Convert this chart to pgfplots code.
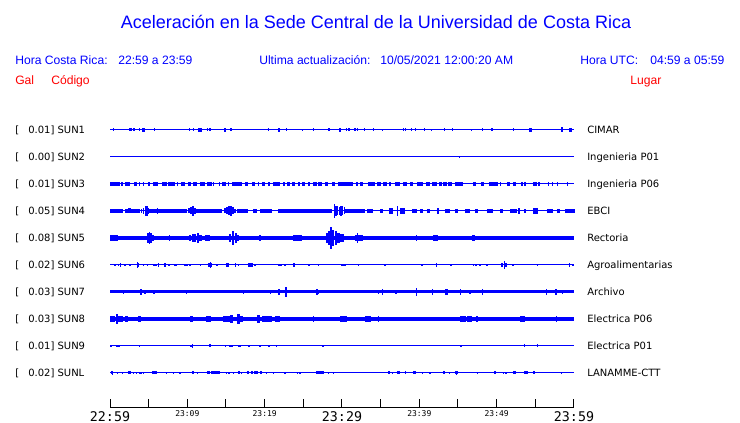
\documentclass[border=0pt]{standalone}
\usepackage{fontspec}
\setmainfont{Liberation Sans}
\newfontfamily\dejavu{DejaVu Sans}
\newfontfamily\dejamono{DejaVu Sans Mono}
\usepackage{pgfplots}
\pgfplotsset{compat=1.18}
\usepackage{pgfplotstable}
\definecolor{sblue}{RGB}{0,0,255}
\definecolor{sred}{RGB}{255,0,0}
\newlength\px
\setlength\px{0.75pt}

% each trace: t = minutes after 22:59, a = half height of a burst (px), w = burst width (px)
\pgfplotstableread{
t a w
0.43 1.5 1
2.65 1.5 2.3
3.10 1.5 1
3.79 1.5 1.3
4.35 1.6 3
5.73 1.5 1
10.26 1.5 1
10.78 1.5 1
11.64 1.6 3.3
12.59 1.5 1
12.93 1.5 1
14.87 1.6 2
15.65 1.5 1
20.47 1.5 1
21.83 1.6 2
22.84 1.5 1
24.91 1.1 1
26.29 1.5 1
28.32 1.5 1
29.74 1.6 2
30.60 1.5 1
30.91 1.5 1
31.68 1.5 1
31.98 1.5 1
32.89 1.5 1
34.05 1.5 1
35.22 1.2 1
37.93 1.5 1
38.23 1.5 1
38.97 1.5 1
39.53 1.5 1
40.65 1.5 1
41.59 1.2 1
43.23 1.5 1
44.27 1.5 1
46.77 1.1 1
48.15 1.5 1
49.40 1.5 1
52.16 1.5 1
54.35 1.6 3
58.45 2.5 1
59.57 1.9 3
}\sunone

\pgfplotstableread{
t a w
45.17 1 1
}\suntwo

\pgfplotstableread{
t a w
0.65 1.65 10
1.57 1.65 2.3
2.26 1.65 5
3.32 1.65 3.3
3.79 1.65 1
4.31 1.65 1
5.02 1.65 2.3
5.93 1.65 5
7.05 1.65 4.3
7.97 1.65 6.7
8.73 1.65 1.7
9.44 1.65 4
10.26 1.65 3.3
10.99 1.65 3.3
11.96 1.65 5
12.82 1.65 5
13.36 1.65 1
14.14 1.65 1
14.74 1.65 3.3
15.30 1.65 1
16.38 1.65 10
17.67 1.65 3.3
18.53 1.65 3.3
19.18 1.65 1.3
19.87 1.65 2.7
20.58 1.65 1.7
21.51 1.65 7.3
22.48 1.65 2.3
23.06 1.65 3.3
23.71 1.65 3.3
24.42 1.65 2.3
25.00 1.65 3.3
25.71 1.65 2.3
26.51 1.65 3.3
27.16 1.65 3.3
27.97 1.65 2.7
28.88 1.65 3.3
30.50 1.65 15
31.96 1.65 2.3
32.50 1.65 2.7
33.84 1.65 6.7
34.78 1.65 3.3
35.52 1.65 4
36.21 1.65 1
37.18 1.65 5
38.15 1.65 3.3
38.97 1.65 2.7
40.09 1.65 6.7
41.12 1.65 4
41.92 1.65 5
42.72 1.65 2.3
43.32 1.65 3.3
43.97 1.65 3.3
45.09 1.65 7.7
47.00 1.65 1
47.20 1.65 1
48.17 1.65 3
49.63 1.65 9
50.52 1.65 1
51.51 1.65 3.3
52.33 1.65 2.7
53.30 1.65 2.3
53.66 1.65 1
55.00 1.65 4
55.47 1.65 1
56.68 1.65 1
57.22 1.65 1.7
57.86 1.65 1.7
59.14 1.65 1
}\sunthree

\pgfplotstableread{
t a w
0.86 1.7 13.3
2.91 1.7 15
2.54 2.5 2.7
4.09 2.3 1.5
4.35 3.3 1.5
4.57 4.7 1.5
4.78 5.3 1.5
4.96 3 1.5
5.13 2 1.5
6.12 3.3 1
7.54 1.7 36.7
8.06 2 1
10.22 2.5 1.5
10.47 3.5 1.5
10.73 4.7 1.5
10.99 3.3 1.5
11.25 2.3 1.5
12.28 2 1
12.93 1.7 23.3
14.87 2.5 1.5
15.13 3.5 1.5
15.39 4.5 1.5
15.65 5.3 1.5
15.91 3.5 1.5
16.16 2.3 1.5
16.60 2 1
17.13 1.7 11.7
18.75 1.7 3.3
20.15 1.7 11.7
19.78 2.3 2.7
22.84 2 1
25.22 1.7 53.3
29.01 7 1.5
29.22 5 1.5
29.44 4.5 1.5
29.66 4.3 1.5
29.87 5 1.5
30.09 4.5 1.5
30.30 3.5 1.5
30.93 2 8.3
32.22 1.7 11.7
33.62 1.7 6.7
35.13 1.7 3.3
36.38 2.7 4
37.16 4.7 1.3
37.82 2.7 5
39.33 1.7 5
40.30 1.7 3.3
41.21 1.7 2.7
42.41 3.3 2.7
43.64 1.7 5
44.83 2 3.3
46.23 1.7 5
47.41 1.7 3.3
49.14 1.7 6.7
50.65 1.7 3.3
52.16 1.7 6.7
52.89 3.3 1.3
53.66 1.7 1.3
55.06 2.7 5
56.90 1.7 6.7
58.02 1.7 2.7
59.48 1.7 10
}\sunfour

\pgfplotstableread{
t a w
0.54 3 8.3
1.72 2.2 10
4.87 5.3 1.7
5.09 6 1.7
5.30 4.7 1.7
5.60 3.3 2.3
5.91 2.2 2.3
7.54 2.4 10
7.67 3.3 1.3
9.27 2 10
10.34 3 2.3
10.69 3.7 2.3
10.99 4 2.3
11.42 4.7 2.3
11.72 3 2.3
12.61 3 5
14.87 2 3.3
15.52 4.3 2
15.95 6.7 2
16.25 5.3 2
16.59 3.3 2.3
16.94 2 2.3
17.78 1.8 8.3
19.40 3.3 1.3
21.98 1.5 3.3
23.17 2.3 5
24.25 3.3 8.3
25.75 1.7 5
26.72 1.5 1.3
28.02 5 2
28.32 6.7 2
28.58 11 2
28.88 8.3 2
29.18 6.7 2
29.53 5.3 2.3
29.87 4 2.3
30.17 4 2.3
31.03 2 6.7
32.00 3.3 5
32.03 4.7 1.3
32.54 2.7 3.3
33.94 2 8.3
35.56 1.7 3.3
36.85 1.7 3.3
39.66 3.3 1.5
42.13 3.3 5
42.89 2 3.3
43.97 1.7 3.3
45.69 1.7 1.3
47.00 2.7 3.3
49.57 2 1.3
52.16 2 1.3
53.02 1.7 1.3
54.74 1.7 3.3
56.68 1.5 1
59.40 2 1
}\sunfive

\pgfplotstableread{
t a w
0.65 1.4 2
1.08 1.4 1
1.38 1.7 1.3
1.94 1.4 1.7
2.59 1.4 1.7
3.62 1.7 2.7
3.58 2.7 1
4.31 1.4 1
4.87 1.4 1
5.82 1.4 3.3
6.25 2 1
7.11 2 1.3
7.59 1.4 2.3
8.45 1.4 2.7
9.83 1.4 4.3
10.34 1.4 1
11.72 1.4 1.7
12.97 1.7 4
13.02 2.7 1
13.84 1.4 2.3
15.17 1.7 3
16.25 2.3 1.3
16.59 1.4 1
18.15 1.7 5.7
18.75 1.4 1
21.85 1.4 1
22.11 1.4 1
22.63 1.4 1
23.79 1.7 2
25.73 1.1 1
26.94 1.1 1
30.13 1.4 5
32.11 1.1 1
35.56 1 1
40.39 1.4 2
42.24 2 1.3
44.05 1.4 2
46.98 1.4 1
47.33 1.4 2
47.84 1.1 1
48.79 1.4 2
50.73 2 2
50.99 4 1.5
51.21 2 2
52.16 1.4 2
55.30 1 1
59.40 2 1.3
59.90 1.4 1.5
}\sunsix

\pgfplotstableread{
t a w
1.72 2.3 1
4.01 3.3 1
4.53 2.3 1.3
5.69 2 1
9.91 1.7 1
17.24 1.8 1
20.78 2 1
21.85 3 1
22.76 4.7 1.3
26.77 3 1.3
26.94 2 1.3
34.70 1.7 1
35.26 3 1.3
36.98 1.7 1
39.66 4 1.5
41.72 3 1.3
43.53 2.7 3
45.34 2.7 1.3
46.55 2 1.3
48.15 3 1.3
56.47 3 1.3
57.67 2.7 1.3
58.53 2.3 1.3
}\sunseven

\pgfplotstableread{
t a w
0.30 2.7 5
0.95 4.7 2.3
1.38 3 5
2.16 2.7 3.3
3.02 2 6.7
3.84 3 2.7
4.53 1.7 1
5.26 2.3 2
5.99 2 2.7
7.24 1.7 1.7
7.76 1.7 1
8.10 1.7 1
8.41 1.7 1
9.48 1.7 1
10.56 2.7 3.3
11.29 2.3 8.3
12.07 1.7 1
12.80 3 5
13.88 2 8.3
15.09 2.7 6.7
15.73 4 3.3
16.59 4.7 3.3
17.03 3.3 3.3
18.10 1.9 10
19.18 4 3.3
20.26 2.7 10
21.64 3 5
22.63 1.9 6.7
23.92 1.9 1.3
25.30 1.7 1.7
26.29 3.3 1.3
27.59 2.3 6.7
29.09 1.7 1
30.17 2.7 6.7
33.32 2.7 5.7
34.70 3 1.3
35.99 2.3 6.7
43.23 2 5.7
44.74 2 2.3
45.65 3 6
46.47 2.7 4.3
47.50 3 2
48.88 2 9.3
50.00 2 3.3
50.78 1.9 2.3
51.94 2.3 6.7
53.32 3.3 5
55.60 2 6.7
56.68 1.7 3.3
57.76 3.3 1.3
}\suneight

\pgfplotstableread{
t a w
0.13 1.1 1
0.99 1.3 4.3
3.79 1.1 1
10.56 1.3 3.3
10.65 1.8 1
12.93 1.5 1
14.96 1.3 1.5
15.65 1.4 3.3
16.72 1.4 3
17.97 1.1 1
19.40 1.1 1
20.56 1.1 1
21.55 1.2 1.3
27.54 1.4 1
45.39 1.1 1
53.58 1.5 1
55.30 1.5 1
}\sunnine

\pgfplotstableread{
t a w
0.26 1.5 2.3
0.30 2 1
0.95 1.3 1
1.59 1.3 1
2.54 1.5 2.7
3.02 1.3 1
3.45 1.3 1
3.79 1.3 1
4.01 1.3 1
4.31 1.3 1
5.69 1.5 5
7.33 1.3 1
8.19 1.3 1
9.05 1.3 1
10.78 1.5 2
11.34 1.3 1
12.72 1.5 3.3
13.66 1.5 8.3
15.09 1.3 1
15.39 1.3 1
15.95 1.3 1
16.64 1.5 2.3
17.03 1.3 1
17.80 1.5 1.7
18.32 1.5 1.7
18.92 1.5 4
19.53 1.5 2.3
20.26 1.3 1
21.12 1.3 1
22.63 1.3 1
24.27 1.3 1
24.57 1.3 1
27.16 1.5 8.7
28.23 1.3 1
28.88 1.3 1
36.08 1.5 2
36.55 1.3 1
37.28 1.5 3.3
38.23 1.5 1.7
39.40 1.5 2.7
40.43 1.3 1
41.38 1.3 1
43.19 1.5 1.7
43.88 1.3 1
44.83 1.5 3.3
44.83 2.3 1
47.50 1.3 1
49.78 1.5 1.7
50.86 1.3 1
51.21 1.3 1
52.29 1.5 2.3
53.84 1.5 4
54.83 1.5 1.7
58.41 1.3 1
}\sunL

% a burst: filled box w px wide and 2a px high, sizes taken per point
\pgfdeclareplotmark{burst}{%
  \pgfmathsetmacro\bw{max(\wid,1.3)}%
  \pgfpathrectangle{\pgfpoint{-0.375pt*\bw}{-0.75pt*\amp}}{\pgfpoint{0.75pt*\bw}{1.5pt*\amp}}%
  \pgfusepathqfill}

\pgfplotsset{
  seis/.style={scatter, only marks, mark=burst, point meta=\thisrow{a},
    scatter/use mapped color={draw=none, fill=sblue},
    visualization depends on={\thisrow{a}\as\amp},
    visualization depends on={\thisrow{w}\as\wid}},
  tracebase/.style={sblue, line width=#1, no marks},
}
\newcommand\bigt{\dejamono\fontsize{10}{11}\selectfont}
\newcommand\smallt[1]{\raisebox{3.75pt}{\dejamono\fontsize{6}{7}\selectfont #1}}
\newcommand\lbl{\dejavu\fontsize{7.5}{9}\selectfont}

\begin{document}
\begin{tikzpicture}
\useasboundingbox (0,0) rectangle (555pt,-317.25pt);

\node[anchor=base, inner sep=0pt, text=sblue, font=\fontsize{13.5}{16}\selectfont] at (376\px,-28.5\px) {Aceleración en la Sede Central de la Universidad de Costa Rica};
\begin{scope}[every node/.style={anchor=base west, inner sep=0pt, text=sblue, font=\fontsize{9.1}{11}\selectfont}]
\node at (15\px,-64.4\px) {Hora Costa Rica:};
\node at (118\px,-64.4\px) {22:59 a 23:59};
\node at (259\px,-64.4\px) {Ultima actualización:};
\node at (380\px,-64.4\px) {10/05/2021 12:00:20 AM};
\node at (580\px,-64.4\px) {Hora UTC:};
\node at (650\px,-64.4\px) {04:59 a 05:59};
\node[text=sred] at (15\px,-84.4\px) {Gal};
\node[text=sred] at (51\px,-84.4\px) {Código};
\node[text=sred] at (630\px,-84.4\px) {Lugar};
\end{scope}

\begin{axis}[
  at={(82.5pt,-306pt)}, anchor=south west,
  scale only axis, width=348pt, height=228.8pt,
  xmin=0, xmax=60, ymin=-11.3, ymax=0,
  axis x line=bottom, axis y line=none,
  axis line style={-}, x axis line style={-, black, line width=0.75pt},
  xtick={0,5,...,60},
  xticklabels={{\bigt 22:59},{},{\smallt{23:09}},{},{\smallt{23:19}},{},{\bigt 23:29},{},{\smallt{23:39}},{},{\smallt{23:49}},{},{\bigt 23:59}},
  xticklabel style={anchor=base, yshift=-9.9pt, inner sep=0pt},
  tick align=inside, major tick length=6.75pt,
  xtick style={black, line width=0.75pt},
  point meta min=0, point meta max=12,
  clip=false,
]
\addplot[tracebase=0.75pt] coordinates {(0,-1) (60,-1)};
\addplot[tracebase=0.75pt] coordinates {(0,-2) (60,-2)};
\addplot[tracebase=0.75pt] coordinates {(0,-3) (60,-3)};
\addplot[tracebase=0.75pt] coordinates {(0,-4) (60,-4)};
\addplot[tracebase=2.8pt] coordinates {(0,-5) (60,-5)};
\addplot[tracebase=0.75pt] coordinates {(0,-6) (60,-6)};
\addplot[tracebase=2.25pt] coordinates {(0,-7) (60,-7)};
\addplot[tracebase=2.8pt] coordinates {(0,-8) (60,-8)};
\addplot[tracebase=0.75pt] coordinates {(0,-9) (60,-9)};
\addplot[tracebase=0.75pt] coordinates {(0,-10) (60,-10)};

\addplot[seis] table[x=t, y expr=-1] {\sunone};
\addplot[seis] table[x=t, y expr=-2] {\suntwo};
\addplot[seis] table[x=t, y expr=-3] {\sunthree};
\addplot[seis] table[x=t, y expr=-4] {\sunfour};
\addplot[seis] table[x=t, y expr=-5] {\sunfive};
\addplot[seis] table[x=t, y expr=-6] {\sunsix};
\addplot[seis] table[x=t, y expr=-7] {\sunseven};
\addplot[seis] table[x=t, y expr=-8] {\suneight};
\addplot[seis] table[x=t, y expr=-9] {\sunnine};
\addplot[seis] table[x=t, y expr=-10] {\sunL};
\end{axis}

\begin{scope}[every node/.style={anchor=base west, inner sep=0pt, font=\lbl}]
\node at (15\px,-133.6\px) {\makebox[9.75pt][l]{[}0.01] SUN1};
\node at (15\px,-160.6\px) {\makebox[9.75pt][l]{[}0.00] SUN2};
\node at (15\px,-187.6\px) {\makebox[9.75pt][l]{[}0.01] SUN3};
\node at (15\px,-214.6\px) {\makebox[9.75pt][l]{[}0.05] SUN4};
\node at (15\px,-241.6\px) {\makebox[9.75pt][l]{[}0.08] SUN5};
\node at (15\px,-268.6\px) {\makebox[9.75pt][l]{[}0.02] SUN6};
\node at (15\px,-295.6\px) {\makebox[9.75pt][l]{[}0.03] SUN7};
\node at (15\px,-322.6\px) {\makebox[9.75pt][l]{[}0.03] SUN8};
\node at (15\px,-349.6\px) {\makebox[9.75pt][l]{[}0.01] SUN9};
\node at (15\px,-376.6\px) {\makebox[9.75pt][l]{[}0.02] SUNL};
\node at (587\px,-133.6\px) {CIMAR};
\node at (587\px,-160.6\px) {Ingenieria P01};
\node at (587\px,-187.6\px) {Ingenieria P06};
\node at (587\px,-214.6\px) {EBCI};
\node at (587\px,-241.6\px) {Rectoria};
\node at (587\px,-268.6\px) {Agroalimentarias};
\node at (587\px,-295.6\px) {Archivo};
\node at (587\px,-322.6\px) {Electrica P06};
\node at (587\px,-349.6\px) {Electrica P01};
\node at (587\px,-376.6\px) {LANAMME-CTT};
\end{scope}
\end{tikzpicture}
\end{document}
